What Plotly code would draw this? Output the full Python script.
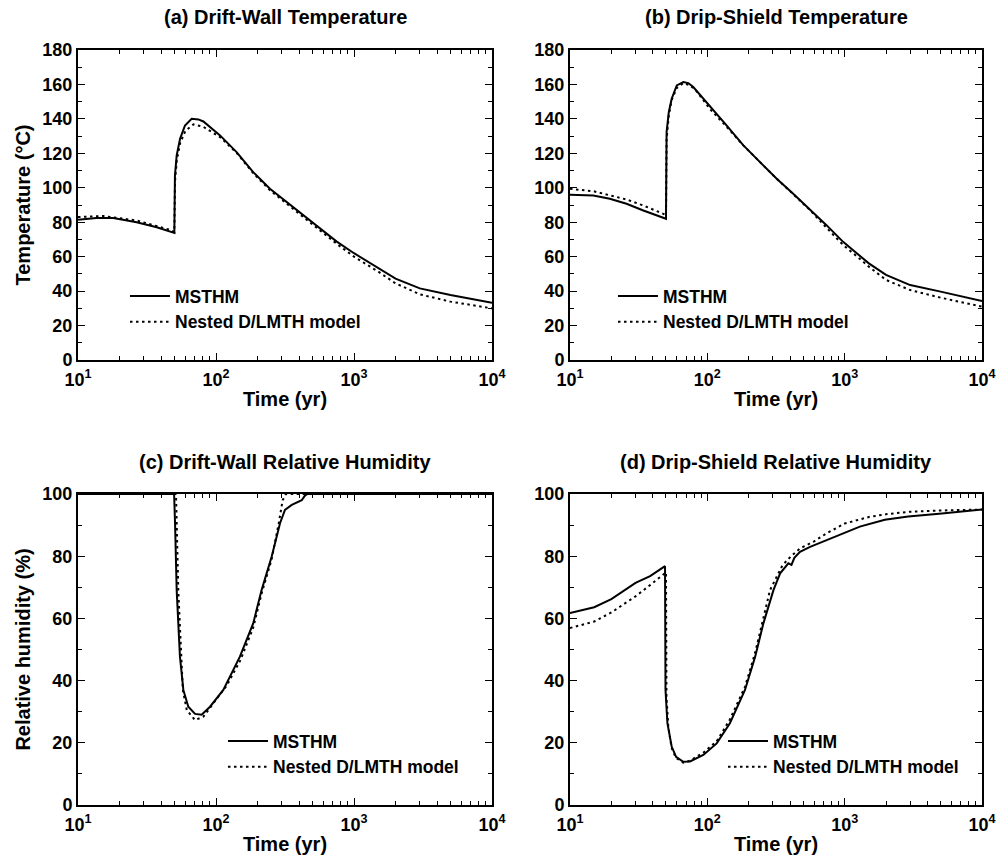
import plotly.graph_objects as go

# ---------------- data ----------------
# (a) Drift-wall temperature
t_a_msthm = [10, 13.6, 18, 26.6, 37.2, 49.9, 50.4, 51.9, 54.9, 59.6, 66.6, 74.5, 81, 107, 141, 186, 246, 324, 428, 565, 746, 1000, 1300, 1500, 2000, 3000, 5000, 10000]
T_a_msthm = [81.4, 82.5, 82.4, 80, 77.1, 73.8, 107.1, 118.8, 128.4, 136.2, 140.1, 139.7, 138.5, 130.4, 120.7, 109.1, 99.4, 91.7, 83.9, 76.2, 68.9, 62, 56.5, 53.2, 47.2, 41.6, 37.7, 33.3]
t_a_nested = [10, 15.3, 26.6, 46.4, 49.9, 50.5, 52, 55, 60, 68.7, 81, 107, 141, 186, 246, 324, 428, 565, 746, 1000, 1300, 1500, 2000, 3000, 5000, 10000]
T_a_nested = [83, 83.6, 81, 75.6, 74.3, 104, 116, 126, 133, 136.8, 135.4, 129.4, 120.3, 108.5, 98.6, 90.8, 83, 75.2, 67.6, 60, 54.5, 51.3, 44.5, 38.1, 33.9, 30]

# (b) Drip-shield temperature
t_b_msthm = [10, 14.8, 19.5, 25.8, 34.2, 50, 50.5, 52.4, 55, 59.9, 66.9, 72.7, 79, 104, 138, 183, 242, 320, 422, 558, 737, 974, 1286, 1500, 2000, 3000, 5000, 10000]
T_b_msthm = [95.9, 95.5, 93.6, 90.7, 86.8, 82, 132.3, 143.9, 151.7, 159.4, 161.4, 160.8, 158.5, 147.8, 136.2, 124.6, 114.9, 105.2, 96.5, 87.6, 78.3, 68.6, 60.3, 56.1, 49.4, 43.5, 39.7, 34.3]
t_b_nested = [10, 14.8, 25.8, 34.2, 47.8, 50, 50.5, 52.4, 55, 60, 67, 75, 83.7, 104, 138, 183, 242, 320, 422, 558, 737, 974, 1286, 1500, 2000, 3000, 5000, 10000]
T_b_nested = [99.4, 98, 93.2, 89.7, 84.9, 84, 128, 142, 151, 158, 160.8, 159.5, 156, 145.9, 135.5, 124.6, 114.9, 105.2, 96.3, 87.1, 76.8, 66.8, 58.8, 54.2, 46.5, 40.6, 36.2, 31]

# (c) Drift-wall relative humidity
t_c_msthm = [10, 20, 30, 40, 49.7, 50.5, 51.9, 54.8, 58, 63, 70.5, 78.7, 90.5, 113, 149, 186, 214, 253, 291, 316, 354, 418, 441, 460, 1000, 10000]
RH_c_msthm = [100, 100, 100, 100, 100, 90.6, 69, 47.7, 37, 31.6, 29.3, 29, 31.6, 37, 47.7, 58.4, 69.1, 79.8, 90.6, 94.9, 96.5, 98, 99.5, 100, 100, 100]
t_c_nested = [10, 20, 30, 40, 51.3, 53.3, 55.7, 57.5, 61.4, 70.5, 81, 101, 120, 150, 186, 214, 253, 285, 304, 321, 1000, 10000]
RH_c_nested = [100, 100, 100, 100, 100, 69, 47.7, 37, 30.5, 27.3, 28.4, 34, 38.5, 46.5, 57, 68, 79, 90.6, 98, 100, 100, 100]

# (d) Drip-shield relative humidity
t_d_msthm = [10, 15, 20, 30, 38.3, 49.2, 49.6, 51.2, 55, 59.2, 66.8, 74.8, 93.5, 117, 146, 188, 223, 256, 303, 339, 389, 410, 430, 473, 560, 741, 1000, 1290, 1960, 2900, 5100, 10000]
RH_d_msthm = [61.7, 63.6, 66.2, 71.4, 73.6, 76.8, 37, 26.3, 18.8, 15.5, 13.9, 14, 16.1, 19.8, 26.3, 37, 47.7, 58.4, 69.1, 74.5, 77.7, 77.2, 79.5, 81.4, 83, 85.2, 87.5, 89.5, 91.7, 92.8, 93.7, 95]
t_d_nested = [10, 15, 20, 30, 38.3, 47, 50, 50.4, 52, 55, 59, 66.8, 75, 93.5, 117, 146, 188, 223, 256, 286, 348, 380, 420, 473, 600, 741, 1000, 1500, 2000, 3000, 5000, 10000]
RH_d_nested = [56.9, 59, 61.9, 67.1, 70.7, 74, 74.8, 35, 25, 18.3, 15.2, 13.6, 14.3, 16.8, 20.5, 27.5, 38, 49, 60, 69.1, 76.6, 78.7, 80.5, 82.5, 84.8, 87.4, 90.5, 92.6, 93.5, 94.3, 94.7, 95]

panel_titles = ["(a) Drift-Wall Temperature", "(b) Drip-Shield Temperature",
                "(c) Drift-Wall Relative Humidity", "(d) Drip-Shield Relative Humidity"]
series_names = ["MSTHM", "Nested D/LMTH model"]
x_tickvals = [10, 100, 1000, 10000]
x_ticktext = ["10<sup>1</sup>", "10<sup>2</sup>", "10<sup>3</sup>", "10<sup>4</sup>"]
x_minor = [m * d for d in (10, 100, 1000) for m in range(2, 10)]

# ---------------- figure ----------------
FONT = "Liberation Sans, Arial, Helvetica, sans-serif"
W, H = 998, 862

def px_x(p):
    return p / W

def px_y(p):
    return 1 - p / H

fig = go.Figure()

panels = [
    ("x", "y", t_a_msthm, T_a_msthm, t_a_nested, T_a_nested, "legend"),
    ("x2", "y2", t_b_msthm, T_b_msthm, t_b_nested, T_b_nested, "legend2"),
    ("x3", "y3", t_c_msthm, RH_c_msthm, t_c_nested, RH_c_nested, "legend3"),
    ("x4", "y4", t_d_msthm, RH_d_msthm, t_d_nested, RH_d_nested, "legend4"),
]
for xa, ya, t1, v1, t2, v2, lg in panels:
    fig.add_trace(go.Scatter(x=t1, y=v1, mode="lines", name=series_names[0],
                             line=dict(color="black", width=2),
                             xaxis=xa, yaxis=ya, legend=lg))
    fig.add_trace(go.Scatter(x=t2, y=v2, mode="lines", name=series_names[1],
                             line=dict(color="black", width=2, dash="2.5px,3.5px"),
                             xaxis=xa, yaxis=ya, legend=lg))

left_dom = [px_x(78), px_x(492)]
right_dom = [px_x(570), px_x(982)]
top_dom = [px_y(360), px_y(50)]
bot_dom = [px_y(805), px_y(494)]

tickfont = dict(family=FONT, size=18, color="black", weight="bold")
titlefont = dict(family=FONT, size=20, color="black", weight="bold")

def xaxis(domain, anchor):
    return dict(domain=domain, anchor=anchor, type="log", range=[1, 4],
                tickvals=x_tickvals, ticktext=x_ticktext,
                ticks="inside", ticklen=7, tickwidth=1, tickcolor="black",
                ticklabelstandoff=2,
                showline=True, linewidth=2, linecolor="black", mirror="allticks",
                showgrid=False, zeroline=False,
                minor=dict(tickvals=x_minor, ticks="inside", ticklen=4,
                           tickwidth=1, tickcolor="black", showgrid=False),
                tickfont=tickfont,
                title=dict(text="Time (yr)", font=titlefont, standoff=3),
                automargin=False)

def yaxis(domain, anchor, rng, title):
    return dict(domain=domain, anchor=anchor, range=rng, dtick=20,
                ticks="inside", ticklen=7, tickwidth=1, tickcolor="black",
                showline=True, linewidth=2, linecolor="black", mirror="allticks",
                showgrid=False, zeroline=False,
                minor=dict(dtick=10, ticks="inside", ticklen=4,
                           tickwidth=1, tickcolor="black", showgrid=False),
                tickfont=tickfont,
                title=dict(text=title, font=titlefont, standoff=6),
                automargin=False)

legend_common = dict(font=dict(family=FONT, size=17.5, color="black", weight="bold"),
                     bgcolor="rgba(0,0,0,0)", borderwidth=0,
                     xanchor="left", yanchor="middle", itemwidth=40,
                     tracegroupgap=0)

def legend_at(xp, yp):
    d = dict(legend_common)
    d.update(x=px_x(xp), y=px_y(yp))
    return d

fig.update_layout(
    width=W, height=H,
    margin=dict(l=0, r=0, t=0, b=0),
    paper_bgcolor="white", plot_bgcolor="white",
    showlegend=True,
    xaxis=xaxis(left_dom, "y"),
    yaxis=yaxis(top_dom, "x", [0, 180], "Temperature (°C)"),
    xaxis2=xaxis(right_dom, "y2"),
    yaxis2=yaxis(top_dom, "x2", [0, 180], ""),
    xaxis3=xaxis(left_dom, "y3"),
    yaxis3=yaxis(bot_dom, "x3", [0, 100], "Relative humidity (%)"),
    xaxis4=xaxis(right_dom, "y4"),
    yaxis4=yaxis(bot_dom, "x4", [0, 100], ""),
    legend=legend_at(125, 309),
    legend2=legend_at(613, 309),
    legend3=legend_at(223, 754),
    legend4=legend_at(723, 754),
)

title_pos = [(285, 17), (776, 17), (285, 462), (776, 462)]
for txt, (xp, yp) in zip(panel_titles, title_pos):
    fig.add_annotation(text=txt, x=px_x(xp), y=px_y(yp), xref="paper", yref="paper",
                       xanchor="center", yanchor="middle", showarrow=False,
                       font=dict(family=FONT, size=20, color="black", weight="bold"))

fig.write_html("out.html")
